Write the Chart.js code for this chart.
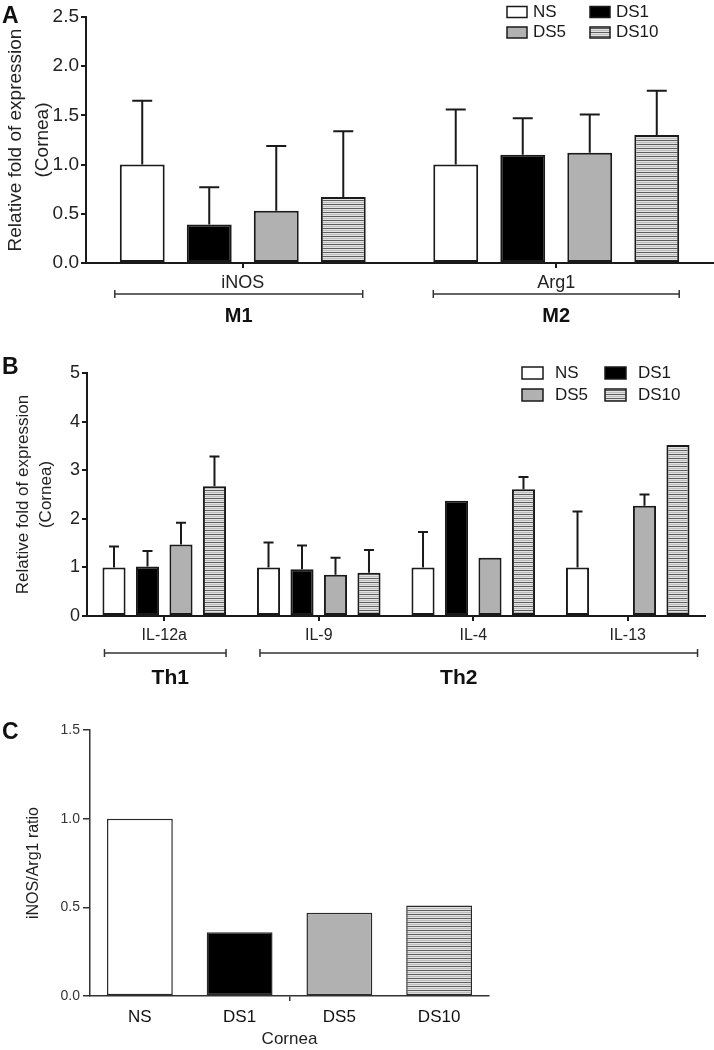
<!DOCTYPE html>
<html lang="en">
<head>
<meta charset="UTF-8">
<title>Relative fold of expression (Cornea)</title>
<script src="https://cdn.jsdelivr.net/npm/chart.js"></script>
<style>
  body { margin: 0; background: #fff; }
  #page { position: relative; width: 714px; height: 1050px; }
  .box { position: absolute; left: 0; width: 714px; }
  .letter { position: absolute; left: 2px; font: bold 23px "Liberation Sans", Arial, sans-serif; line-height: 1; color: #111; }
</style>
</head>
<body>
<div id="page">
  <div class="box" style="top:0;height:330px"><canvas id="chartA"></canvas></div>
  <div class="box" style="top:330px;height:360px"><canvas id="chartB"></canvas></div>
  <div class="box" style="top:690px;height:360px"><canvas id="chartC"></canvas></div>
  <div class="letter" style="top:4px">A</div>
  <div class="letter" style="top:355px">B</div>
  <div class="letter" style="top:720px">C</div>
</div>
<script>
// groups (treatments)
const groups = ['NS', 'DS1', 'DS5', 'DS10'];

// panel A - M1 / M2 markers
const genesA = ['iNOS', 'Arg1'];
const nsA = [1.00, 1.00];
const ds1A = [0.39, 1.10];
const ds5A = [0.53, 1.12];
const ds10A = [0.67, 1.30];
const nsAErr = [0.65, 0.56];
const ds1AErr = [0.38, 0.37];
const ds5AErr = [0.66, 0.39];
const ds10AErr = [0.67, 0.45];
const ticksA = [0, 0.5, 1.0, 1.5, 2.0, 2.5];

// panel B - Th1 / Th2 cytokines
const genesB = ['IL-12a', 'IL-9', 'IL-4', 'IL-13'];
const nsB = [1.00, 1.00, 1.00, 1.00];
const ds1B = [1.02, 0.96, 2.37, 0];
const ds5B = [1.47, 0.85, 1.20, 2.27];
const ds10B = [2.67, 0.89, 2.61, 3.52];
const nsBErr = [0.43, 0.51, 0.73, 1.15];
const ds1BErr = [0.32, 0.49, null, null];
const ds5BErr = [0.45, 0.35, null, 0.23];
const ds10BErr = [0.61, 0.47, 0.25, null];
const ticksB = [0, 1, 2, 3, 4, 5];

// panel C - iNOS/Arg1 ratio
const ratioC = [1.00, 0.36, 0.47, 0.51];
const ticksC = [0, 0.5, 1.0, 1.5];

const FONT = '"Liberation Sans", Arial, sans-serif';
Chart.defaults.font.family = FONT;

function stripes() {
  const c = document.createElement('canvas');
  c.width = 8; c.height = 4;
  const g = c.getContext('2d');
  g.fillStyle = '#e2e2e2'; g.fillRect(0, 0, 8, 4);
  g.fillStyle = '#5e5e5e'; g.fillRect(0, 0, 8, 1);
  g.fillStyle = '#bcbcbc'; g.fillRect(0, 2, 8, 1);
  return g.createPattern(c, 'repeat');
}
const fills = ['#ffffff', '#000000', '#b1b1b1', stripes()];

// upward error bars from dataset.errors
const errorBars = {
  id: 'errorBars',
  afterDatasetsDraw(chart, args, o) {
    const ctx = chart.ctx, y = chart.scales.y;
    chart.data.datasets.forEach((ds, i) => {
      if (!ds.errors) return;
      chart.getDatasetMeta(i).data.forEach((bar, j) => {
        const e = ds.errors[j];
        if (e == null) return;
        const top = y.getPixelForValue(ds.data[j] + e);
        ctx.save();
        ctx.strokeStyle = '#1a1a1a';
        ctx.lineWidth = 2;
        ctx.beginPath();
        ctx.moveTo(bar.x, bar.y);
        ctx.lineTo(bar.x, top);
        ctx.moveTo(bar.x - o.cap / 2, top);
        ctx.lineTo(bar.x + o.cap / 2, top);
        ctx.stroke();
        ctx.restore();
      });
    });
  }
};

// 2x2 legend with boxes
const boxLegend = {
  id: 'boxLegend',
  afterDraw(chart, args, o) {
    const ctx = chart.ctx;
    chart.data.datasets.forEach((ds, i) => {
      const bx = o.x + (i % 2) * o.colW;
      const cy = o.y + Math.floor(i / 2) * o.rowH;
      ctx.save();
      ctx.fillStyle = ds.backgroundColor;
      ctx.fillRect(bx, cy - o.boxH / 2, o.boxW, o.boxH);
      ctx.strokeStyle = '#1a1a1a';
      ctx.lineWidth = 1.5;
      ctx.strokeRect(bx, cy - o.boxH / 2, o.boxW, o.boxH);
      ctx.fillStyle = '#1a1a1a';
      ctx.font = o.size + 'px ' + FONT;
      ctx.textBaseline = 'middle';
      ctx.fillText(ds.label, bx + o.gap, cy);
      ctx.restore();
    });
  }
};

// group brackets under the x axis (M1/M2, Th1/Th2)
const brackets = {
  id: 'brackets',
  afterDraw(chart, args, o) {
    const ctx = chart.ctx;
    const n = chart.data.datasets.length;
    const first = chart.getDatasetMeta(0).data, last = chart.getDatasetMeta(n - 1).data;
    o.items.forEach(b => {
      const a = first[b.from], z = last[b.to];
      const x1 = a.x - a.width / 2 + b.pad[0];
      const x2 = z.x + z.width / 2 + b.pad[1];
      ctx.save();
      ctx.strokeStyle = '#333';
      ctx.lineWidth = 1.5;
      ctx.beginPath();
      ctx.moveTo(x1, o.y); ctx.lineTo(x2, o.y);
      ctx.moveTo(x1, o.y - 4); ctx.lineTo(x1, o.y + 4);
      ctx.moveTo(x2, o.y - 4); ctx.lineTo(x2, o.y + 4);
      ctx.stroke();
      ctx.fillStyle = '#111';
      ctx.font = 'bold ' + o.size + 'px ' + FONT;
      ctx.textAlign = 'center';
      ctx.textBaseline = 'middle';
      ctx.fillText(b.label, (x1 + x2) / 2 + b.dx, o.labelY);
      ctx.restore();
    });
  }
};

function groupedChart(id, labels, data, errs, o) {
  return new Chart(document.getElementById(id), {
    type: 'bar',
    data: {
      labels: labels,
      datasets: data.map((d, i) => ({
        label: groups[i],
        data: d,
        errors: errs[i],
        backgroundColor: fills[i],
        borderColor: '#1a1a1a',
        borderWidth: 2,
        borderSkipped: false,
        barPercentage: o.barPct,
        categoryPercentage: o.catPct
      }))
    },
    options: {
      responsive: true,
      maintainAspectRatio: false,
      animation: false,
      layout: { padding: o.padding },
      plugins: {
        legend: { display: false },
        tooltip: { enabled: false },
        errorBars: { cap: o.cap },
        boxLegend: o.legend,
        brackets: o.brackets
      },
      scales: {
        x: {
          grid: { offset: false, drawOnChartArea: false, tickLength: 5, color: '#1a1a1a', lineWidth: 2 },
          border: { color: '#1a1a1a', width: 2 },
          ticks: { color: '#222', font: { size: o.catSize }, padding: o.catPad },
          afterFit: s => { s.height = o.xH; }
        },
        y: {
          min: 0,
          max: o.ticks[o.ticks.length - 1],
          afterBuildTicks: s => { s.ticks = o.ticks.map(v => ({ value: v })); },
          ticks: { color: '#222', font: { size: o.tickSize }, padding: 2, callback: o.fmt },
          grid: { drawOnChartArea: false, tickLength: 5, color: '#1a1a1a', lineWidth: 2 },
          border: { color: '#1a1a1a', width: 2 },
          title: {
            display: true,
            text: ['Relative fold of expression', '(Cornea)'],
            color: '#222',
            font: { size: o.titleSize, lineHeight: o.titleLH },
            padding: { top: o.titlePad, bottom: 0 }
          },
          afterFit: s => { s.width = o.yW; }
        }
      }
    },
    plugins: [errorBars, boxLegend, brackets]
  });
}

groupedChart('chartA', genesA,
  [nsA, ds1A, ds5A, ds10A],
  [nsAErr, ds1AErr, ds5AErr, ds10AErr],
  {
    padding: { top: 17, right: 1, left: 0, bottom: 0 },
    xH: 67, yW: 86, barPct: 0.67, catPct: 0.855, cap: 20,
    ticks: ticksA, fmt: v => v.toFixed(1), tickSize: 19, catSize: 18, catPad: 4,
    titleSize: 19, titleLH: 1.42, titlePad: 2,
    legend: { x: 507, y: 12, colW: 83, rowH: 20.5, boxW: 20, boxH: 11, gap: 26, size: 17 },
    brackets: { y: 294, labelY: 316, size: 20, items: [
      { label: 'M1', from: 0, to: 0, pad: [-5, -3], dx: 0 },
      { label: 'M2', from: 1, to: 1, pad: [0, 0], dx: 0 }
    ] }
  });

groupedChart('chartB', genesB,
  [nsB, ds1B, ds5B, ds10B],
  [nsBErr, ds1BErr, ds5BErr, ds10BErr],
  {
    padding: { top: 43, right: 9, left: 0, bottom: 0 },
    xH: 74, yW: 87, barPct: 0.69, catPct: 0.867, cap: 10,
    ticks: ticksB, fmt: v => String(v), tickSize: 18, catSize: 16, catPad: 5,
    titleSize: 17, titleLH: 1.35, titlePad: 11.5,
    legend: { x: 522, y: 43, colW: 83, rowH: 22, boxW: 21, boxH: 12, gap: 33, size: 17 },
    brackets: { y: 323, labelY: 348, size: 21, items: [
      { label: 'Th1', from: 0, to: 0, pad: [2, 0], dx: 5 },
      { label: 'Th2', from: 1, to: 3, pad: [3, 8], dx: -20 }
    ] }
  });

new Chart(document.getElementById('chartC'), {
  type: 'bar',
  data: {
    labels: groups,
    datasets: [{
      label: 'iNOS/Arg1 ratio',
      data: ratioC,
      backgroundColor: fills,
      borderColor: '#2a2a2a',
      borderWidth: 1.5,
      borderSkipped: false,
      barPercentage: 0.66,
      categoryPercentage: 1
    }]
  },
  options: {
    responsive: true,
    maintainAspectRatio: false,
    animation: false,
    layout: { padding: { top: 40, right: 225, left: 0, bottom: 0 } },
    plugins: { legend: { display: false }, tooltip: { enabled: false } },
    scales: {
      x: {
        grid: {
          offset: true, drawOnChartArea: false, tickLength: 5, lineWidth: 1.5,
          color: c => c.index === 2 ? '#333' : 'rgba(0,0,0,0)'
        },
        border: { color: '#333', width: 1.5 },
        ticks: { color: '#111', font: { size: 17 }, padding: 6 },
        title: { display: true, text: 'Cornea', color: '#222', font: { size: 17 }, padding: { top: 0, bottom: 0 } },
        afterFit: s => { s.height = 54; }
      },
      y: {
        min: 0,
        max: 1.5,
        afterBuildTicks: s => { s.ticks = ticksC.map(v => ({ value: v })); },
        ticks: { color: '#333', font: { size: 14 }, padding: 3, callback: v => v.toFixed(1) },
        grid: { drawOnChartArea: false, tickLength: 7, color: '#333', lineWidth: 1.5 },
        border: { color: '#333', width: 1.5 },
        title: { display: true, text: 'iNOS/Arg1 ratio', color: '#222', font: { size: 16 }, padding: { top: 24, bottom: 0 } },
        afterFit: s => { s.width = 90; }
      }
    }
  }
});
</script>
</body>
</html>
